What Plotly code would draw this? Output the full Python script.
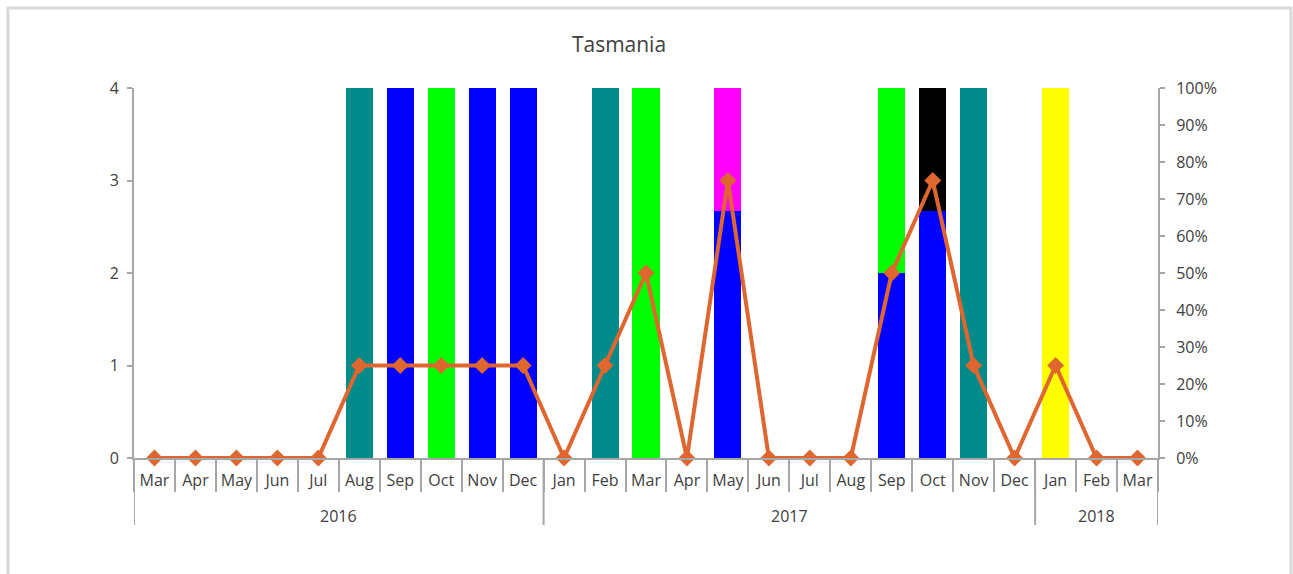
import plotly.graph_objects as go

# Month axis: year and month of each category
years = ["2016"] * 10 + ["2017"] * 12 + ["2018"] * 3
months = ["Mar", "Apr", "May", "Jun", "Jul", "Aug", "Sep", "Oct", "Nov", "Dec",
          "Jan", "Feb", "Mar", "Apr", "May", "Jun", "Jul", "Aug", "Sep", "Oct", "Nov", "Dec",
          "Jan", "Feb", "Mar"]

# Monthly count (left axis)
counts = [0, 0, 0, 0, 0, 1, 1, 1, 1, 1,
          0, 1, 2, 0, 3, 0, 0, 0, 2, 3, 1, 0,
          1, 0, 0]

# Share of each type per month (right axis, 100% stacked)
share_blue = [0, 0, 0, 0, 0, 0, 1, 0, 1, 1,
              0, 0, 0, 0, 0.667, 0, 0, 0, 0.5, 0.667, 0, 0,
              0, 0, 0]
share_teal = [0, 0, 0, 0, 0, 1, 0, 0, 0, 0,
              0, 1, 0, 0, 0, 0, 0, 0, 0, 0, 1, 0,
              0, 0, 0]
share_green = [0, 0, 0, 0, 0, 0, 0, 1, 0, 0,
               0, 0, 1, 0, 0, 0, 0, 0, 0.5, 0, 0, 0,
               0, 0, 0]
share_magenta = [0, 0, 0, 0, 0, 0, 0, 0, 0, 0,
                 0, 0, 0, 0, 0.333, 0, 0, 0, 0, 0, 0, 0,
                 0, 0, 0]
share_black = [0, 0, 0, 0, 0, 0, 0, 0, 0, 0,
               0, 0, 0, 0, 0, 0, 0, 0, 0, 0.333, 0, 0,
               0, 0, 0]
share_yellow = [0, 0, 0, 0, 0, 0, 0, 0, 0, 0,
                0, 0, 0, 0, 0, 0, 0, 0, 0, 0, 0, 0,
                1, 0, 0]

# unique category keys, labelled by month only
keys = [f"{y}-{m}" for y, m in zip(years, months)]

FONT = "Open Sans"
TEXT = "#404040"
AXIS = "#a6a6a6"
W, H = 1293, 574
L, R, T, B = 134, 135, 88, 116
plot_h = H - T - B

fig = go.Figure()
for vals, col in [(share_blue, "#0000ff"), (share_teal, "#008b8b"),
                  (share_green, "#00ff00"), (share_magenta, "#ff00ff"),
                  (share_black, "#000000"), (share_yellow, "#ffff00")]:
    fig.add_trace(go.Bar(x=keys, y=vals, marker=dict(color=col, line=dict(width=0)),
                         yaxis="y", showlegend=False))

fig.add_trace(go.Scatter(x=keys, y=counts, yaxis="y2", mode="lines+markers",
                         line=dict(color="#e0662f", width=4),
                         marker=dict(symbol="diamond", size=13, color="#e0662f"),
                         showlegend=False, cliponaxis=False))

fig.update_layout(
    width=W, height=H,
    margin=dict(l=L, r=R, t=T, b=B),
    paper_bgcolor="white", plot_bgcolor="white",
    barmode="stack", bargap=0.34,
    font=dict(family=FONT, size=16, color=TEXT),
    title=dict(text="Tasmania", x=619 / W, xanchor="center",
               y=1 - 45 / H, yanchor="middle",
               font=dict(family=FONT, size=21, color=TEXT)),
    xaxis=dict(type="category", categoryorder="array", categoryarray=keys,
               range=[-0.5, len(keys) - 0.5],
               tickmode="array", tickvals=keys, ticktext=months, tickangle=0,
               tickson="boundaries", showline=True, linecolor=AXIS, linewidth=2,
               ticks="outside", ticklen=32, tickcolor=AXIS, tickwidth=2,
               ticklabelstandoff=7,
               showgrid=False, tickfont=dict(size=16, color=TEXT)),
    yaxis=dict(side="right", range=[0, 1], dtick=0.1, tickformat=".0%",
               showline=True, linecolor=AXIS, linewidth=2,
               ticks="outside", ticklen=5, tickcolor=AXIS, tickwidth=2,
               ticklabelstandoff=8,
               showgrid=False, zeroline=False, tickfont=dict(size=16, color=TEXT)),
    yaxis2=dict(side="left", overlaying="y", range=[0, 4], dtick=1,
                showline=True, linecolor=AXIS, linewidth=2,
                ticks="outside", ticklen=5, tickcolor=AXIS, tickwidth=2,
                ticklabelstandoff=5,
                showgrid=False, zeroline=False, tickfont=dict(size=16, color=TEXT)),
)

# Year groups: label centred under each group, dividers at group edges
groups = []
for i, y in enumerate(years):
    if not groups or groups[-1][0] != y:
        groups.append([y, i, i])
    else:
        groups[-1][2] = i
edges = sorted({g[1] - 0.5 for g in groups} | {g[2] + 0.5 for g in groups})
for e in edges:
    fig.add_shape(type="line", xref="x", yref="paper", x0=e, x1=e,
                  y0=0, y1=-67 / plot_h, line=dict(color=AXIS, width=2))
for y, i0, i1 in groups:
    fig.add_annotation(x=(i0 + i1) / 2, xref="x", y=-58 / plot_h, yref="paper",
                       text=y, showarrow=False, yanchor="middle",
                       font=dict(family=FONT, size=16, color=TEXT))

# Chart frame
fig.add_shape(type="rect", xref="paper", yref="paper",
              x0=-126 / 1024, x1=1157 / 1024, y0=-0.5, y1=1 + 80 / plot_h,
              line=dict(color="#d9d9d9", width=3), layer="below")

fig.write_html("out.html")
